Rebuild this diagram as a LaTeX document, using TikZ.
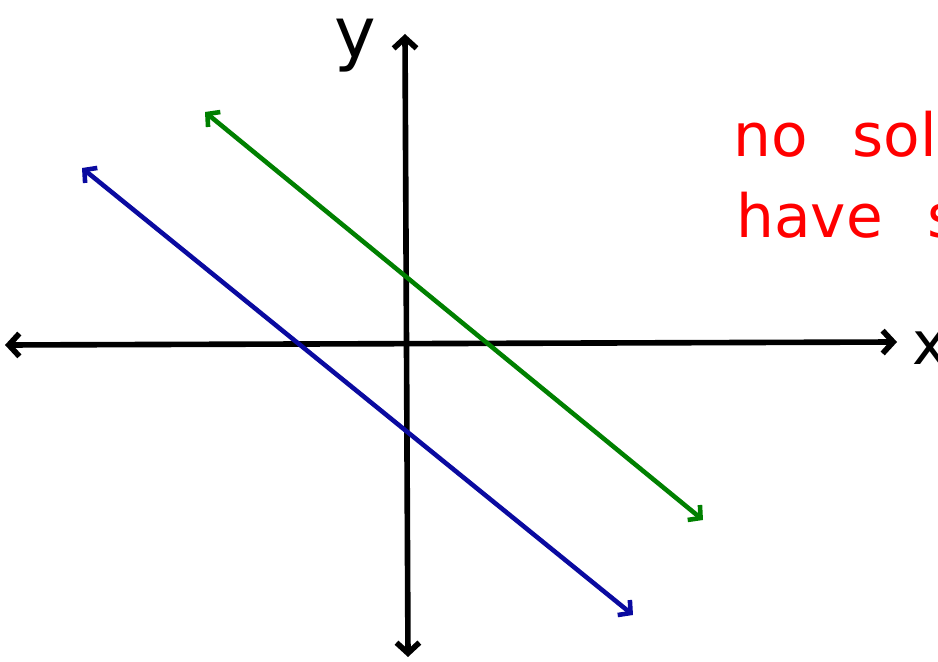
\documentclass[tikz,border=0pt]{standalone}
\usepackage{fontspec}
\setmainfont{DejaVu Sans}
\usepackage{xcolor}
\definecolor{lnred}{RGB}{255,0,0}
\definecolor{lngreen}{RGB}{0,128,0}
\definecolor{lnblue}{RGB}{10,10,160}
\usetikzlibrary{arrows.meta}

\begin{document}
\begin{tikzpicture}[x=0.02cm, y=-0.02cm,
    axisline/.style={line width=3.2pt, line cap=round,
      {Straight Barb[length=6pt,width=13pt]}-{Straight Barb[length=6pt,width=13pt]}},
    eqline/.style={line width=2.6pt, line cap=round,
      {Straight Barb[length=5pt,width=11pt]}-{Straight Barb[length=5pt,width=11pt]}},
    hand/.style={inner sep=0pt, font=\fontsize{34}{40}\selectfont}]
  \useasboundingbox (0,0) rectangle (938,662);
  \clip (0,0) rectangle (938,662);
  % axes
  \coordinate (xl) at (5,345);
  \coordinate (xr) at (897,342);
  \coordinate (yb) at (408,657);
  \coordinate (yt) at (405,34);
  \draw[axisline] (xl) -- (xr);
  \draw[axisline] (yb) -- (yt);
  \node[hand, anchor=base] (ylab) at (355,58) {\fontsize{40}{44}\selectfont y};
  \node[hand, anchor=base west] (xlab) at (912,365) {x};
  % two parallel lines
  \coordinate (g1) at (205,112);
  \coordinate (g2) at (703,520);
  \coordinate (b1) at (82,168);
  \coordinate (b2) at (633,615);
  \draw[eqline, lngreen] (g1) -- (g2);
  \draw[eqline, lnblue] (b1) -- (b2);
  % note
  \node[hand, lnred, anchor=base west] (note1) at (733,157) {no\hspace{0.9cm}sol};
  \node[hand, lnred, anchor=base west] (note2) at (736,238) {have\hspace{0.9cm}s};
\end{tikzpicture}
\end{document}
